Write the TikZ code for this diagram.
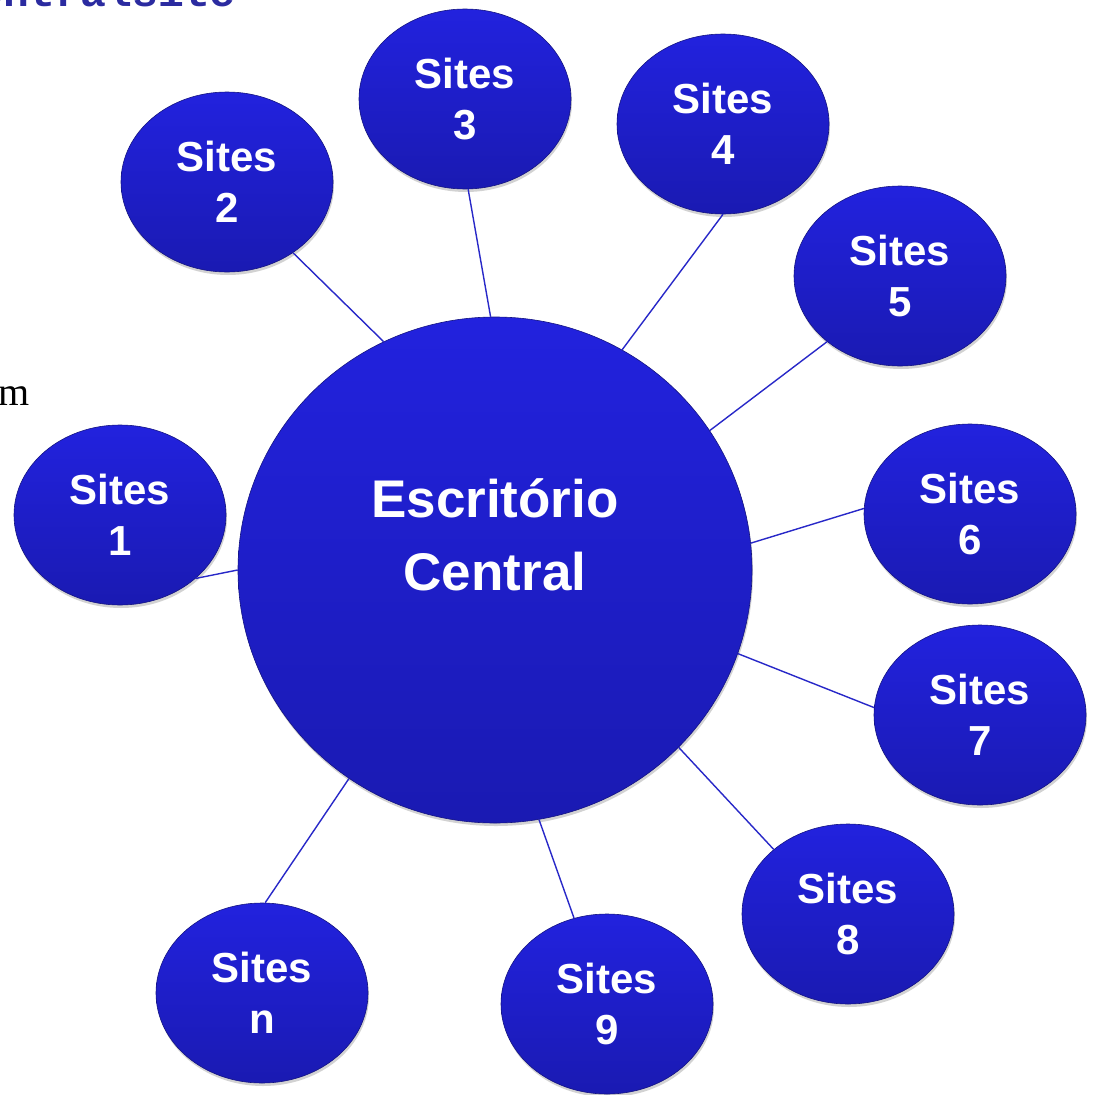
\documentclass[tikz,border=0pt]{standalone}
\usepackage{fontspec}
\setmainfont{Liberation Sans}
\newfontfamily\titlefont{Liberation Mono}
\newfontfamily\serffont{Liberation Serif}
\usetikzlibrary{shapes.geometric,shadows}
\definecolor{nodetop}{RGB}{34,34,222}
\definecolor{nodebot}{RGB}{26,26,178}
\definecolor{nodeedge}{RGB}{20,20,130}
\definecolor{linkblue}{RGB}{40,40,200}
\definecolor{titleblue}{RGB}{43,43,160}
\tikzset{
  sitebox/.style={ellipse, minimum width=212pt, minimum height=180pt, inner sep=0pt,
    top color=nodetop, bottom color=nodebot, draw=nodeedge, line width=0.6pt,
    drop shadow={shadow xshift=1pt, shadow yshift=-3pt, opacity=0.35},
    text=white, align=center, font=\fontsize{42}{51}\selectfont\bfseries},
  centralbox/.style={ellipse, minimum width=514pt, minimum height=506pt, inner sep=0pt,
    top color=nodetop, bottom color=nodebot, draw=nodeedge, line width=0.6pt,
    drop shadow={shadow xshift=1pt, shadow yshift=-3pt, opacity=0.35}},
  centraltext/.style={text=white, align=center, font=\fontsize{53}{73}\selectfont\bfseries},
  link/.style={draw=linkblue, line width=1.4pt}
}
\begin{document}
\begin{tikzpicture}[x=1pt,y=-1pt]
\useasboundingbox (0,0) rectangle (1093,1095);
\fill[white] (0,0) rectangle (1093,1095);
% cropped title fragment and margin text
\node[anchor=base east, inner sep=0pt, text=titleblue, font=\titlefont\fontsize{43}{43}\selectfont\bfseries] (title) at (236,6) {Centralsite};
\node[anchor=base west, inner sep=0pt, font=\serffont\fontsize{40}{40}\selectfont] (mtext) at (-2,405) {m};
% nodes
\node[centralbox] (c) at (495,570) {};
\node[centraltext] (ct) at (495,535) {Escritório\\Central};
\node[sitebox] (s1) at (120,515) {Sites\\1};
\node[sitebox] (s2) at (227,182) {Sites\\2};
\node[sitebox] (s3) at (465,99) {Sites\\3};
\node[sitebox] (s4) at (723,124) {Sites\\4};
\node[sitebox] (s5) at (900,276) {Sites\\5};
\node[sitebox] (s6) at (970,514) {Sites\\6};
\node[sitebox] (s7) at (980,715) {Sites\\7};
\node[sitebox] (s8) at (848,914) {Sites\\8};
\node[sitebox] (s9) at (607,1004) {Sites\\9};
\node[sitebox] (sn) at (262,993) {Sites\\n};
% connectors
\draw[link] (s1.-40) -- (c.180.2);
\draw[link] (s2.-47.5) -- (c.116.9);
\draw[link] (s3.-88) -- (c.91.6);
\draw[link] (s4.-90.6) -- (c.60.7);
\draw[link] (s5.-138.7) -- (c.33.1);
\draw[link] (s6.177.3) -- (c.6.9);
\draw[link] (s7.176.7) -- (c.-19.1);
\draw[link] (s8.139.5) -- (c.-44.4);
\draw[link] (s9.111.3) -- (c.-80.4);
\draw[link] (sn.88.2) -- (c.-125);
\end{tikzpicture}
\end{document}
